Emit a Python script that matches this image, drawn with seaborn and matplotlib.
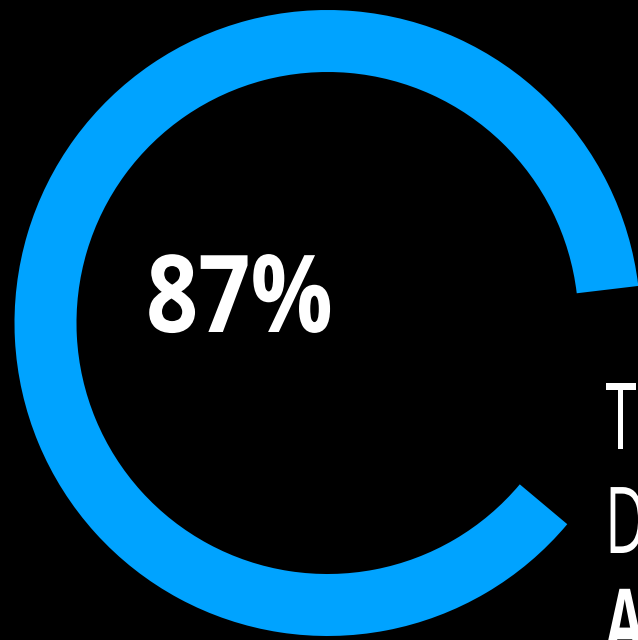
import matplotlib
matplotlib.use("Agg")
import matplotlib.pyplot as plt
from matplotlib import patheffects
from matplotlib.transforms import Affine2D
import seaborn as sns

# Share of respondents shown in the ring
share_pct = 87
ring_values = [share_pct, 100 - share_pct]
center_label = f"{share_pct}%"
side_lines = ["T", "D", "A"]
side_weights = ["normal", "normal", "bold"]

RING_BLUE = "#00A3FF"


class Condensed(patheffects.AbstractPathEffect):
    """Draw glyphs narrowed horizontally about the text origin."""

    def __init__(self, sx):
        super().__init__()
        self.sx = sx

    def draw_path(self, renderer, gc, tpath, affine, rgbFace=None):
        renderer.draw_path(gc, tpath, Affine2D().scale(self.sx, 1) + affine, rgbFace)


sns.set_theme(style="dark", rc={"axes.facecolor": "black", "figure.facecolor": "black"})
plt.rcParams["font.family"] = ["Open Sans", "DejaVu Sans"]

fig = plt.figure(figsize=(6.38, 6.40), dpi=100)
ax = fig.add_axes([0, 0, 1, 1])
ax.set_facecolor("black")

ax.pie(
    ring_values,
    colors=[RING_BLUE, "none"],
    startangle=6.8,
    counterclock=True,
    center=(327.5, 317),
    radius=313,
    wedgeprops=dict(width=62, edgecolor="none", linewidth=0),
)
ax.set_xlim(0, 638)
ax.set_ylim(0, 640)
ax.set_aspect("equal")
ax.axis("off")

ax.text(146, 308, center_label, color="white", fontsize=77.5, fontweight="bold",
        ha="left", va="baseline", path_effects=[Condensed(0.85)])

for label, weight, y in zip(side_lines, side_weights, [191, 87, -15]):
    ax.text(605, y, label, color="white", fontsize=66.5, fontweight=weight,
            ha="left", va="baseline", path_effects=[Condensed(0.62)])

fig.savefig("out.png", dpi=100, facecolor="black")
